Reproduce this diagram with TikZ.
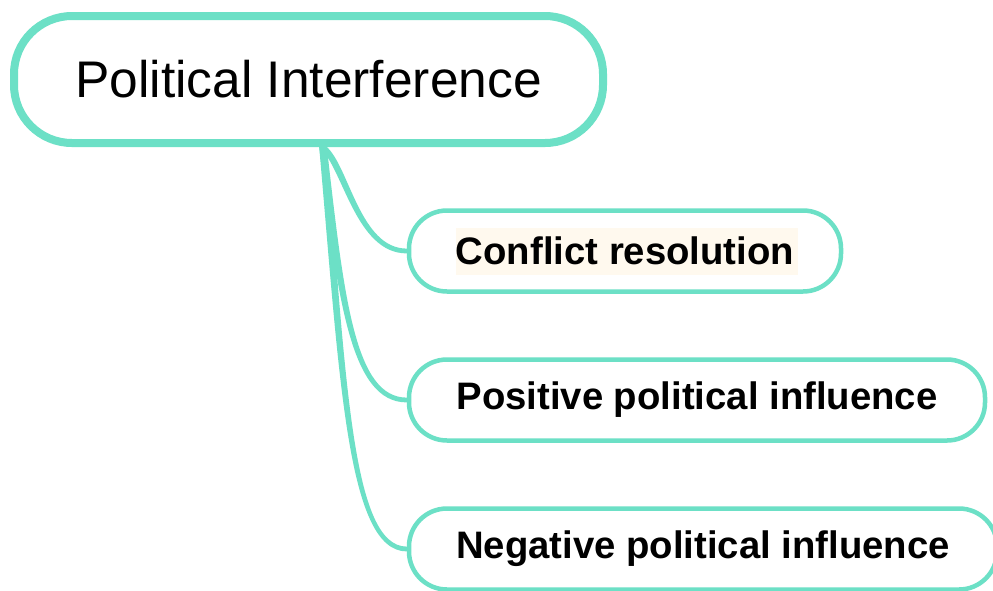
\documentclass[tikz,border=0pt]{standalone}
\usepackage{fontspec}
\setmainfont{Liberation Sans}
\usetikzlibrary{calc}
\definecolor{mint}{RGB}{108,224,198}
\definecolor{cream}{RGB}{255,249,238}
% a branch that is wider at the hub than at the topic it reaches:
% #1 target node, #2 first control offset from the hub, #3 second control offset from the target
\newcommand\taperbranch[3]{%
  \fill[mint] ($(hub)+(-3.8,0)$) .. controls ($(hub)+#2+(-3.2,0)$) and ($(#1.west)+#3+(-2.4,2.4)$) .. ($(#1.west)+(0,2.4)$)
    -- ($(#1.west)+(0,-2.4)$) .. controls ($(#1.west)+#3+(2.4,-2.4)$) and ($(hub)+#2+(3.2,0)$) .. ($(hub)+(3.8,0)$) -- cycle;}
\begin{document}
\begin{tikzpicture}[x=1pt,y=-1pt,
  rootbox/.style={draw=mint, line width=8pt, rounded corners=58pt,
    minimum width=589pt, minimum height=127pt, inner sep=0pt,
    font=\fontsize{51.5}{60}\selectfont},
  leafbox/.style={draw=mint, line width=4.5pt, rounded corners=38pt,
    minimum height=81pt, inner sep=0pt,
    font=\bfseries\fontsize{38.3}{46}\selectfont}]
  \useasboundingbox (0,0) rectangle (993,590);
  \clip (0,0) rectangle (993,590);
  \fill[white] (0,0) rectangle (993,590);

  % highlight behind the first topic label
  \fill[cream] (456,228) rectangle (798,275);

  \node[rootbox] (root) at (308.5,79.5) {Political Interference};
  \node[leafbox, minimum width=432pt] (c1) at (625,251) {Conflict resolution};
  \node[leafbox, minimum width=576pt] (c2) at (697,400) {Positive political influence};
  \node[leafbox, minimum width=588pt] (c3) at (703,549) {Negative political influence};

  % branches leave the root from one point on its lower edge
  \coordinate (hub) at ($(root.south west)+(313,0)$);
  \taperbranch{c1}{(23,20)}{(-49,0)}
  \taperbranch{c2}{(18,153)}{(-54,0)}
  \taperbranch{c3}{(20,235)}{(-57,0)}
\end{tikzpicture}
\end{document}
